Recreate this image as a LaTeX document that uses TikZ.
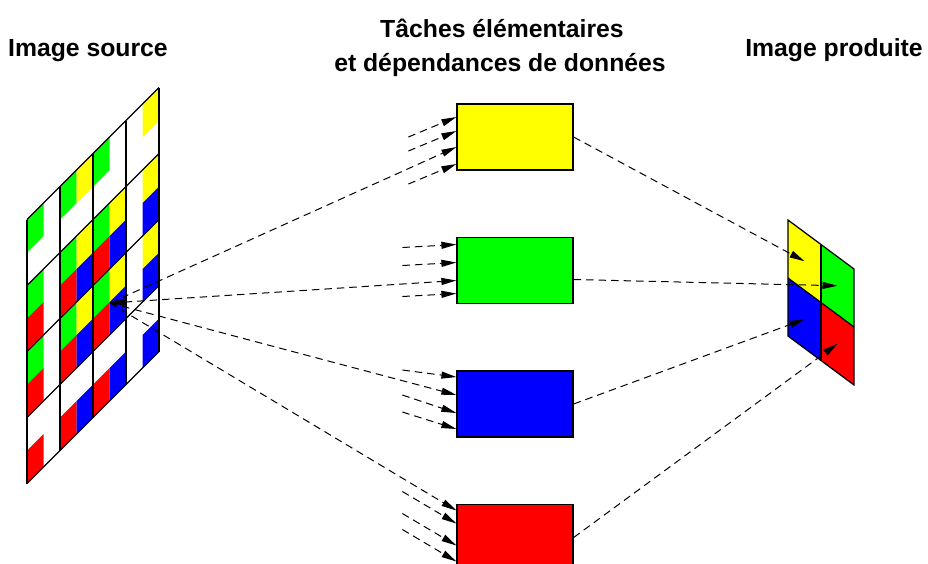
\documentclass[tikz,border=0pt]{standalone}
\usepackage{fontspec}
\setmainfont{Liberation Sans}
\usetikzlibrary{arrows.meta, positioning, calc}
\definecolor{pixrouge}{HTML}{FF0000}
\definecolor{pixvert}{HTML}{00FF00}
\definecolor{pixbleu}{HTML}{0000FF}
\definecolor{pixjaune}{HTML}{FFFF00}

\begin{document}
\begin{tikzpicture}[
  x=0.4pt, y=-0.4pt,
  node distance=26.5pt,
  >={Triangle[length=6pt, width=2.8pt]},
  tache/.style={draw=black, line width=0.5pt, minimum width=46.4pt, minimum height=26.4pt, inner sep=0pt},
  dep/.style={line width=0.4pt, dash pattern=on 3pt off 2pt, ->},
  grille/.style={line width=0.5pt},
  titre/.style={font=\bfseries\fontsize{9.9pt}{12pt}\selectfont, anchor=base}
]
\useasboundingbox (0,0) rectangle (928,563);

% image source
\begin{scope}[shift={(27,219.5)}, yslant=1]
  \foreach \a in {0,2,4} {
    \foreach \b in {0,2,4} \fill[pixvert] (16.5*\a,33*\b) rectangle ++(16.5,33);
    \foreach \b in {3,5,7} \fill[pixrouge] (16.5*\a,33*\b) rectangle ++(16.5,33);
  }
  \foreach \a/\bs in {3/{0,2,4}, 5/{2,4}, 7/{0,2,4}}
    \foreach \b in \bs \fill[pixjaune] (16.5*\a,33*\b) rectangle ++(16.5,33);
  \foreach \a in {3,5,7}
    \foreach \b in {3,5,7} \fill[pixbleu] (16.5*\a,33*\b) rectangle ++(16.5,33);
  \foreach \i in {0,...,4} {
    \draw[grille] (33*\i,0) -- (33*\i,264);
    \draw[grille] (0,66*\i) -- (132,66*\i);
  }
\end{scope}
\coordinate (src) at (110,303);

% image produite
\begin{scope}[shift={(788,220)}, yslant=-0.742]
  \fill[pixjaune] (0,0) rectangle (33,58);
  \fill[pixvert] (33,0) rectangle (66,58);
  \fill[pixbleu] (0,58) rectangle (33,116);
  \fill[pixrouge] (33,58) rectangle (66,116);
  \draw[grille] (0,0) rectangle (66,116);
  \draw[grille] (33,0) -- (33,116);
  \draw[grille] (0,58) -- (66,58);
  \coordinate (oY) at (16.5,29);
  \coordinate (oG) at (49.5,29);
  \coordinate (oB) at (16.5,87);
  \coordinate (oR) at (49.5,87);
\end{scope}

\node[titre] (tSrc) at (88,56) {Image source};
\node[titre] (tTache) at (502,37) {Tâches élémentaires};
\node[titre] (tDep) at (500,71) {et dépendances de données};
\node[titre] (tProd) at (834,56) {Image produite};

\node[tache, fill=pixjaune] (tY) at (515,137) {};
\node[tache, fill=pixvert, below=of tY] (tG) {};
\node[tache, fill=pixbleu, below=of tG] (tB) {};
\node[tache, fill=pixrouge, below=of tB] (tR) {};

\draw[dep] (src) -- ($(tY.west)+(0,10)$);
\draw[dep, <->] (src) -- ($(tG.west)+(0,10)$);
\draw[dep] (src) -- ($(tB.west)+(0,-9)$);
\draw[dep] (src) -- ($(tR.west)+(0,-27)$);

\foreach \dy in {-20,-6,27}
  \draw[dep] ($(tY.west)+(-48,\dy+20)$) -- ($(tY.west)+(0,\dy)$);
\foreach \dy in {-26,-8,23}
  \draw[dep] ($(tG.west)+(-54,\dy+3)$) -- ($(tG.west)+(0,\dy)$);
\foreach \dy/\ty in {-27/-7, 9/-18, 25/-17}
  \draw[dep] ($(tB.west)+(-54,\dy+\ty)$) -- ($(tB.west)+(0,\dy)$);
\foreach \dy in {-14,8,24}
  \draw[dep] ($(tR.west)+(-54,\dy-32)$) -- ($(tR.west)+(0,\dy)$);

\draw[dep] (tY.east) -- (oY);
\draw[dep] ($(tG.east)+(0,9)$) -- (oG);
\draw[dep] (tB.east) -- (oB);
\draw[dep] (tR.east) -- (oR);
\end{tikzpicture}
\end{document}
